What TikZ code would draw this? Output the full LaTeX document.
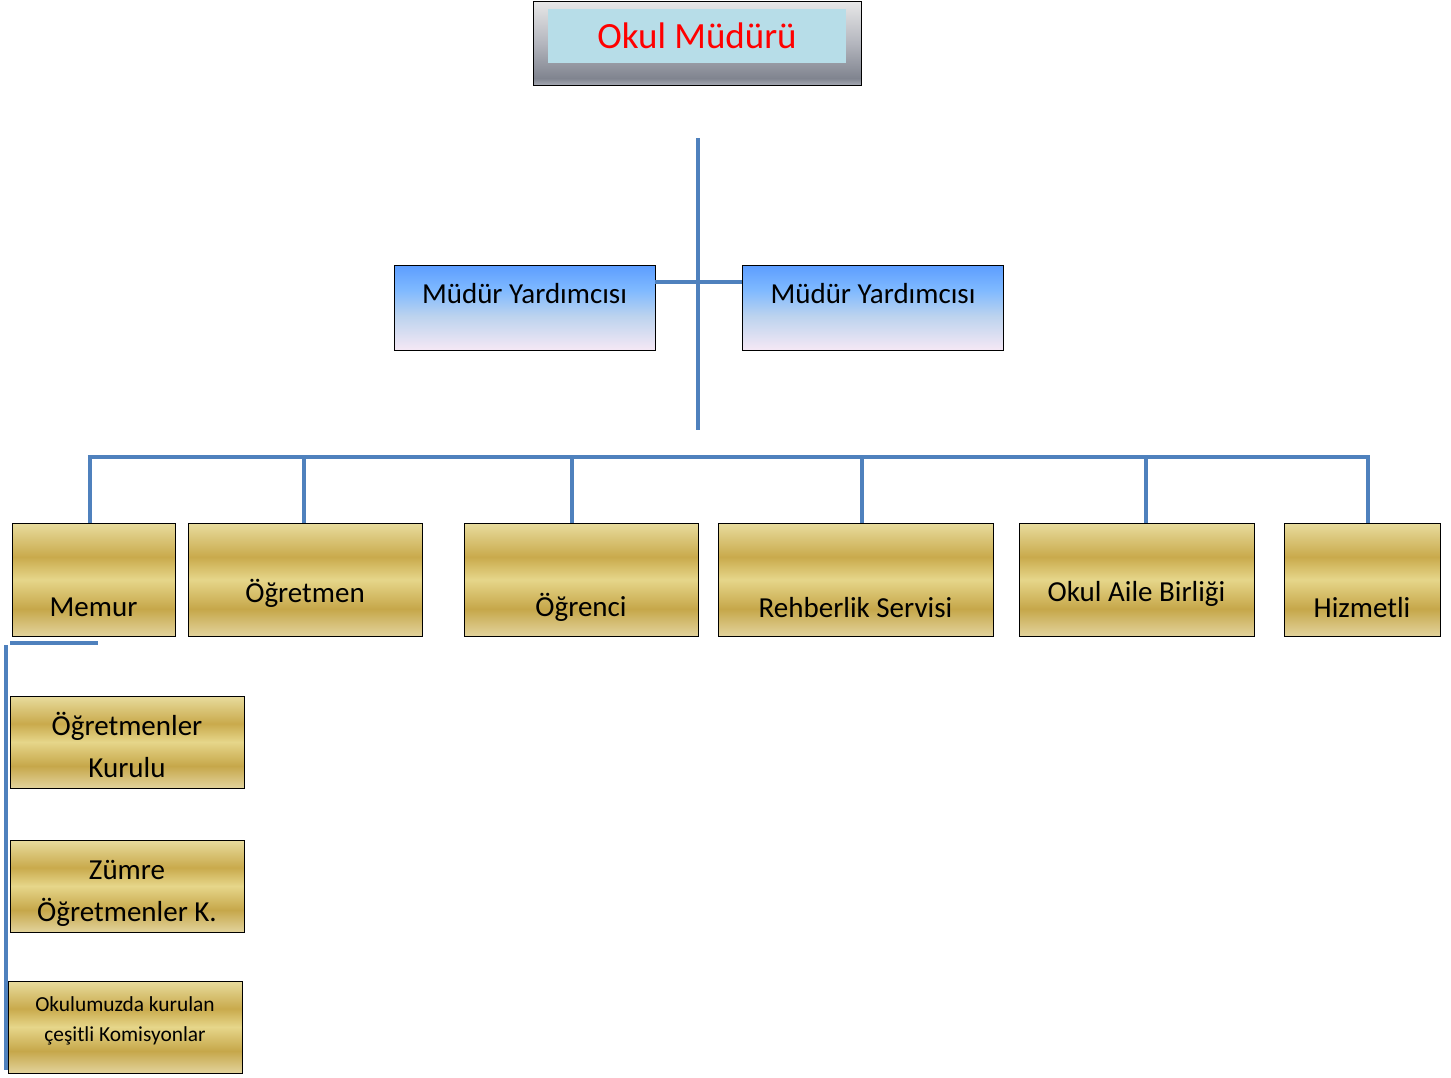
\documentclass[tikz,border=0pt]{standalone}
\usepackage{fontspec}
\setmainfont{Carlito}
\usepackage{tikz}
\usetikzlibrary{positioning}

\definecolor{linkblue}{HTML}{4F81BD}
\definecolor{headred}{HTML}{FF0000}
\definecolor{headfill}{HTML}{B7DDE8}
\definecolor{gold1}{HTML}{E8DC9E}
\definecolor{gold2}{HTML}{C9AA4C}
\definecolor{gold3}{HTML}{E6D68A}
\definecolor{gold4}{HTML}{C6A74A}
\definecolor{gold5}{HTML}{E2D39C}
\definecolor{sky1}{HTML}{5C9DFF}
\definecolor{sky2}{HTML}{80BAFF}
\definecolor{sky3}{HTML}{BCD3EE}
\definecolor{sky4}{HTML}{F5E8F5}
\definecolor{steel1}{HTML}{E8E8E8}
\definecolor{steel2}{HTML}{B4B6BE}
\definecolor{steel3}{HTML}{80848F}
\definecolor{steel4}{HTML}{A4A8B2}

\pgfdeclareverticalshading{goldband}{100bp}{%
  color(0bp)=(gold5); color(25bp)=(gold5); color(37bp)=(gold4);
  color(50bp)=(gold3); color(60bp)=(gold2); color(75bp)=(gold1); color(100bp)=(gold1)}
\pgfdeclareverticalshading{skyband}{100bp}{%
  color(0bp)=(sky4); color(25bp)=(sky4); color(45bp)=(sky3);
  color(60bp)=(sky2); color(75bp)=(sky1); color(100bp)=(sky1)}
\pgfdeclareverticalshading{steelband}{100bp}{%
  color(0bp)=(steel4); color(25bp)=(steel4); color(29bp)=(steel3);
  color(50bp)=(steel2); color(75bp)=(steel1); color(100bp)=(steel1)}

\tikzset{
  goldbox/.style={draw=black, line width=1pt, shading=goldband, inner sep=0pt},
  skybox/.style={draw=black, line width=0.8pt, shading=skyband, inner sep=0pt,
    minimum width=261, minimum height=85},
  link/.style={draw=linkblue, line width=4.5pt},
  lbl/.style={font=\fontsize{29}{42}\selectfont, align=center}
}

\begin{document}
\begin{tikzpicture}[x=1pt, y=-1pt]
    \useasboundingbox (0,0) rectangle (1451,1077);
    % head of school
    \node [draw=black, line width=1pt, shading=steelband, inner sep=0pt,
           minimum width=328, minimum height=84] (mudur) at (697,43) {};
    \node [fill=headfill, inner sep=0pt, minimum width=298, minimum height=54,
           text=headred, font=\fontsize{37}{44}\selectfont] (mudurtext) at (697,36) {Okul Müdürü};
    % assistants
    \node [skybox] (yard1) at (524.5,307.5) {};
    \node [skybox] (yard2) at (873,307.5) {};
    \node [lbl] (yardtext1) at ([yshift=14]yard1.center) {Müdür Yardımcısı};
    \node [lbl] (yardtext2) at ([yshift=14]yard2.center) {Müdür Yardımcısı};
    % units
    \node [goldbox, minimum width=163, minimum height=113] (memur) at (93.5,579.5) {};
    \node [goldbox, minimum width=234, minimum height=113] (ogretmen) at (305,579.5) {};
    \node [goldbox, minimum width=234, minimum height=113] (ogrenci) at (581,579.5) {};
    \node [goldbox, minimum width=275, minimum height=113] (rehberlik) at (855.5,579.5) {};
    \node [goldbox, minimum width=235, minimum height=113] (aile) at (1136.5,579.5) {};
    \node [goldbox, minimum width=156, minimum height=113] (hizmetli) at (1362,579.5) {};
    \node [lbl] at ([yshift=-28]memur.center) {Memur};
    \node [lbl] at ([yshift=-14]ogretmen.center) {Öğretmen};
    \node [lbl] at ([yshift=-28]ogrenci.center) {Öğrenci};
    \node [lbl] at ([yshift=-28]rehberlik.center) {Rehberlik Servisi};
    \node [lbl] at ([yshift=-14]aile.center) {Okul Aile Birliği};
    \node [lbl] at ([yshift=-28]hizmetli.center) {Hizmetli};
    % boards
    \node [goldbox, minimum width=234, minimum height=92] (kurul) at (127,742) {};
    \node [goldbox, minimum width=234, minimum height=92] (zumre) at (127,886) {};
    \node [goldbox, minimum width=234, minimum height=92] (komisyon) at (125,1027) {};
    \node [lbl] at ([yshift=-3]kurul.center) {Öğretmenler\\Kurulu};
    \node [lbl] at ([yshift=-7]zumre.center) {Zümre\\Öğretmenler K.};
    \node [align=center, font=\fontsize{21.4}{30}\selectfont] at ([yshift=6]komisyon.center)
          {Okulumuzda kurulan\\çeşitli Komisyonlar};
    % connectors
    \coordinate (trunktop) at (698,138);
    \coordinate (trunkbot) at (698,430);
    \coordinate (busleft) at (90,457);
    \coordinate (busright) at (1368,457);
    \draw [link] (trunktop) -- (trunkbot);
    \draw [link] (yard1.east |- 0,282) -- (yard2.west |- 0,282);
    \draw [link] ([xshift=-2.25]busleft) -- ([xshift=2.25]busright);
    \foreach \unit/\xpos in {memur/90, ogretmen/304, ogrenci/572, rehberlik/862, aile/1146, hizmetli/1368}
        \draw [link] (\xpos,457) -- (\xpos,0 |- \unit.north);
    \coordinate (sidetop) at (6,645);
    \coordinate (sidebot) at (6,1070);
    \draw [link] (sidetop) -- (sidebot);
    \draw [link] (10,643) -- (98,643);
\end{tikzpicture}
\end{document}
